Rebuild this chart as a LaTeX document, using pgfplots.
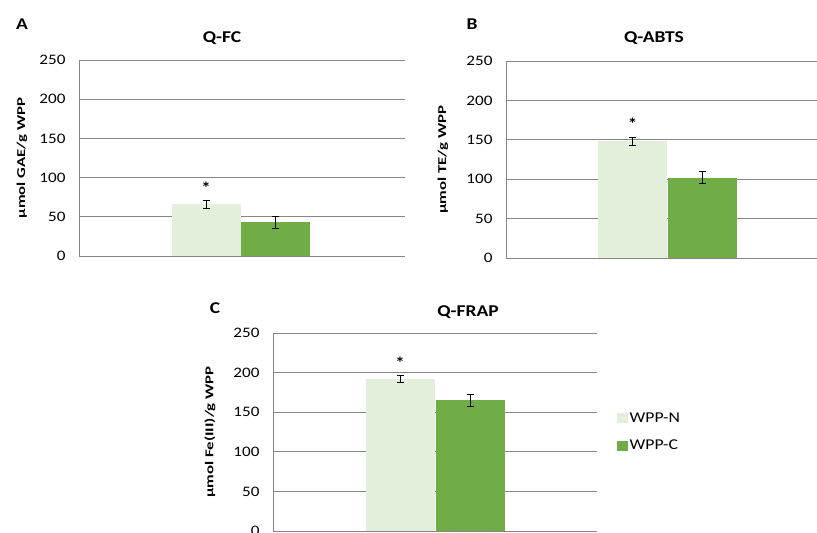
\documentclass[border=0pt]{standalone}
\usepackage{pgfplots}
\pgfplotsset{compat=1.18}
\usepackage{fontspec}
\setmainfont{Carlito}[FakeStretch=1.18]
\newfontfamily\labfont{Carlito}[FakeStretch=1.4]
\definecolor{lightg}{RGB}{226,239,218}
\definecolor{darkg}{RGB}{112,173,71}
\definecolor{gridc}{RGB}{134,134,134}
\pgfplotsset{
  panel/.style={
    scale only axis,
    anchor=south west,
    ymin=0, ymax=250,
    ytick={0,50,100,150,200,250},
    xtick=\empty,
    major tick length=0pt,
    ymajorgrids,
    grid style={draw=gridc, line width=0.8pt},
    axis x line=bottom,
    axis y line=left,
    axis line style={-, draw=gridc, line width=0.8pt},
    /pgf/number format/assume math mode=true,
    yticklabel style={font=\fontsize{14.5bp}{16bp}\selectfont, xshift=-10bp},
    ybar, bar shift=0pt, bar width=69,
    clip=false,
    error bars/y dir=both, error bars/y explicit,
    error bars/error bar style={black, line width=0.8pt},
    error bars/error mark options={black, rotate=90, mark size=3.5bp, line width=0.8pt},
  },
  light/.style={fill=lightg, draw=none},
  dark/.style={fill=darkg, draw=none},
}
\begin{document}
\begin{tikzpicture}
\useasboundingbox (0,0) rectangle (817bp,533bp);
% Panel A
\begin{axis}[panel, at={(79bp,277bp)}, width=326bp, height=196bp, xmin=0, xmax=326,
  every axis y label/.style={at={(axis description cs:0,0.5)}, xshift=-57bp, rotate=90, anchor=center, font=\labfont\bfseries\fontsize{12bp}{14bp}\selectfont},
  ylabel={µmol GAE/g WPP}]
\addplot[light] coordinates {(127,66) +- (0,5.5)};
\addplot[dark] coordinates {(196.5,43) +- (0,7.5)};
\node[font=\bfseries\fontsize{16bp}{18bp}\selectfont] at (axis cs:127,87) {*};
\end{axis}
% Panel B
\begin{axis}[panel, at={(506bp,275bp)}, width=311bp, height=197bp, xmin=0, xmax=311,
  every axis y label/.style={at={(axis description cs:0,0.5)}, xshift=-63bp, rotate=90, anchor=center, font=\labfont\bfseries\fontsize{12bp}{14bp}\selectfont},
  ylabel={µmol TE/g WPP}]
\addplot[light] coordinates {(126.5,148.5) +- (0,5)};
\addplot[dark] coordinates {(196,102) +- (0,7.5)};
\node[font=\bfseries\fontsize{16bp}{18bp}\selectfont] at (axis cs:126.5,170) {*};
\end{axis}
% Panel C
\begin{axis}[panel, at={(273bp,2bp)}, width=324bp, height=198bp, xmin=0, xmax=324,
  every axis y label/.style={at={(axis description cs:0,0.5)}, xshift=-63bp, rotate=90, anchor=center, font=\labfont\bfseries\fontsize{12bp}{14bp}\selectfont},
  ylabel={µmol Fe(III)/g WPP},
  legend style={draw=none, fill=none, at={(axis description cs:1.06,0.5)}, anchor=west,
    font=\fontsize{15bp}{17bp}\selectfont, row sep=12bp, inner sep=0pt},
  legend cell align=left,
  legend image code/.code={\fill[#1] (0bp,-5bp) rectangle (11bp,5bp);}]
\addplot[light] coordinates {(127,192) +- (0,5)};
\addlegendentry{WPP-N}
\addplot[dark] coordinates {(197,165) +- (0,8)};
\addlegendentry{WPP-C}
\node[font=\bfseries\fontsize{16bp}{18bp}\selectfont] at (axis cs:127,212) {*};
\end{axis}
% Titles and panel letters
\node[font=\bfseries\fontsize{16.5bp}{18bp}\selectfont] at (222bp,495bp) {Q-FC};
\node[font=\bfseries\fontsize{16.5bp}{18bp}\selectfont] at (654bp,495bp) {Q-ABTS};
\node[font=\bfseries\fontsize{16.5bp}{18bp}\selectfont] at (468bp,221bp) {Q-FRAP};
\node[font=\bfseries\fontsize{16.5bp}{18bp}\selectfont] at (22bp,509bp) {A};
\node[font=\bfseries\fontsize{16.5bp}{18bp}\selectfont] at (472bp,509bp) {B};
\node[font=\bfseries\fontsize{16.5bp}{18bp}\selectfont] at (215bp,225bp) {C};
\end{tikzpicture}
\end{document}
